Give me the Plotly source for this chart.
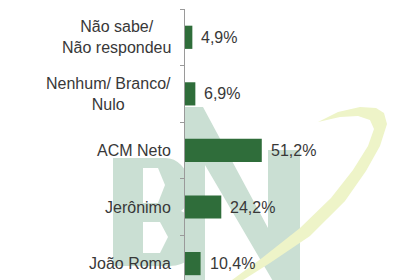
import plotly.graph_objects as go

categories = ["Não sabe/<br>Não respondeu", "Nenhum/ Branco/<br>Nulo", "ACM Neto", "Jerônimo", "João Roma"]
values = [4.9, 6.9, 51.2, 24.2, 10.4]
positions = list(range(len(categories)))

# plot area in pixels (for watermark drawing)
L, T, W, H = 185, 9, 235, 271


def P(x, y):
    return f"{(x - L) / W:.4f},{(T + H - y) / H:.4f}"


def path(pts, close=True):
    s = "M " + P(*pts[0]) + " " + " ".join("L " + P(*p) for p in pts[1:])
    return s + (" Z" if close else "")


fig = go.Figure()
fig.add_trace(go.Bar(
    x=values, y=positions, orientation="h", width=0.41,
    marker=dict(color="#2f6d3a", line=dict(width=0)),
    hoverinfo="skip",
))

text_color = "#383838"
font = dict(family="Liberation Sans, Arial, sans-serif", size=16, color=text_color)

annotations = []
for p, c in zip(positions, categories):
    annotations.append(dict(x=0, xref="paper", y=p, yref="y", text=c, showarrow=False,
                            xanchor="right", yanchor="middle", align="center", xshift=-12, font=font))
for p, v in zip(positions, values):
    annotations.append(dict(x=v, xref="x", y=p, yref="y", text=f"{v:.1f}%".replace(".", ","),
                            showarrow=False, xanchor="left", yanchor="middle", xshift=7, font=font))

wm = "#cadfd3"
shapes = []
# B
b_path = ("M " + P(113, 158) + " L " + P(165, 158) + " C " + P(191, 158) + " " + P(198, 200) + " " + P(181, 211)
          + " C " + P(204, 220) + " " + P(204, 266) + " " + P(170, 266) + " L " + P(113, 266) + " Z")
shapes.append(dict(type="path", path=b_path, xref="paper", yref="paper", fillcolor=wm, line=dict(width=0), layer="below"))
shapes.append(dict(type="path", path=path([(143, 168), (158, 168), (165, 185), (158, 203), (143, 203)]),
                   xref="paper", yref="paper", fillcolor="white", line=dict(width=0), layer="below"))
shapes.append(dict(type="path", path=path([(143, 222), (160, 222), (168, 237), (160, 253), (143, 253)]),
                   xref="paper", yref="paper", fillcolor="white", line=dict(width=0), layer="below"))
# N
n_pts = [(184, 107), (203, 107), (268, 228), (268, 150), (300, 150), (300, 300), (284, 300),
         (205, 165), (205, 300), (184, 300)]
shapes.append(dict(type="path", path=path(n_pts), xref="paper", yref="paper", fillcolor=wm,
                   line=dict(width=0), layer="below"))
# swoosh
outer = [(240, 282), (270, 263), (310, 236), (345, 201), (366, 171), (380, 146), (387, 124),
         (384, 113), (376, 108), (360, 107), (338, 112), (318, 122)]
inner = [(340, 117), (358, 116), (370, 120), (374, 129), (368, 146), (353, 170), (331, 198),
         (300, 228), (262, 258), (232, 280)]
shapes.append(dict(type="path", path=path(outer + inner), xref="paper", yref="paper", fillcolor="#eef4c8",
                   line=dict(width=0), layer="below"))

fig.update_layout(
    width=420, height=280,
    margin=dict(l=L, r=0, t=T, b=0),
    paper_bgcolor="white", plot_bgcolor="white",
    showlegend=False,
    xaxis=dict(range=[0, 156.7], visible=False, fixedrange=True),
    yaxis=dict(range=[4.29, -0.5], tickmode="array", tickvals=[-0.5, 0.5, 1.5, 2.5, 3.5, 4.5],
               showticklabels=False, ticks="outside", ticklen=4, tickcolor="#9a9a9a",
               showline=True, linecolor="#9a9a9a", linewidth=1, showgrid=False, zeroline=False,
               fixedrange=True),
    annotations=annotations,
    shapes=shapes,
)

fig.write_html("out.html")
